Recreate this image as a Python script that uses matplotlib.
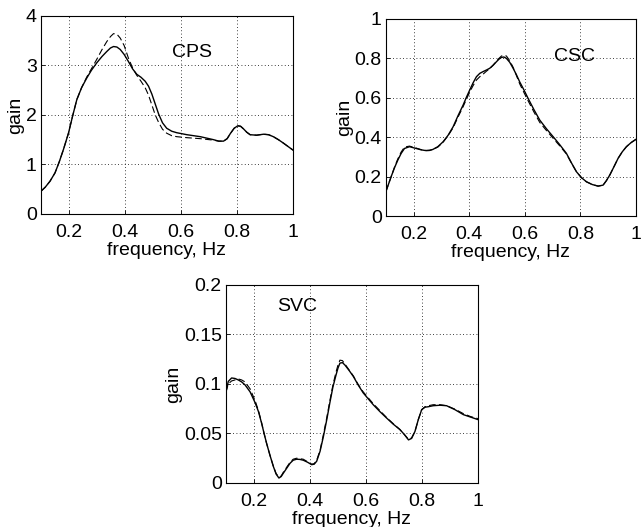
import matplotlib.pyplot as plt

plt.rcParams['font.family'] = ['Liberation Sans', 'DejaVu Sans']

# CPS panel
cps_f = [0.1, 0.115, 0.132, 0.15, 0.165, 0.18, 0.198, 0.213, 0.228, 0.245, 0.263, 0.28, 0.299,
         0.318, 0.335, 0.348, 0.359, 0.371, 0.383, 0.397, 0.412, 0.427, 0.442, 0.457, 0.472,
         0.484, 0.496, 0.508, 0.52, 0.534, 0.549, 0.567, 0.585, 0.621, 0.669, 0.716, 0.735,
         0.752, 0.765, 0.776, 0.79, 0.803, 0.813, 0.823, 0.835, 0.847, 0.87, 0.895, 0.913,
         0.93, 0.948, 0.966, 0.983, 1.0]
cps_solid = [0.46, 0.54, 0.66, 0.83, 1.05, 1.30, 1.63, 1.98, 2.31, 2.55, 2.74, 2.90, 3.05,
             3.18, 3.28, 3.35, 3.38, 3.37, 3.32, 3.22, 3.08, 2.93, 2.82, 2.76, 2.68,
             2.58, 2.42, 2.22, 2.02, 1.84, 1.73, 1.67, 1.64, 1.60, 1.56, 1.50, 1.47,
             1.47, 1.52, 1.62, 1.73, 1.78, 1.77, 1.72, 1.65, 1.60, 1.59, 1.61, 1.60,
             1.56, 1.50, 1.43, 1.36, 1.29]
cps_dash = [0.46, 0.54, 0.66, 0.83, 1.05, 1.30, 1.63, 1.98, 2.31, 2.55, 2.76, 2.93, 3.12,
            3.32, 3.48, 3.58, 3.64, 3.63, 3.55, 3.40, 3.15, 2.95, 2.80, 2.68, 2.55,
            2.40, 2.20, 2.00, 1.85, 1.71, 1.63, 1.58, 1.56, 1.54, 1.52, 1.49, 1.47,
            1.47, 1.52, 1.62, 1.73, 1.78, 1.77, 1.72, 1.65, 1.60, 1.59, 1.61, 1.60,
            1.56, 1.50, 1.43, 1.36, 1.29]

# CSC panel
csc_f = [0.1, 0.109, 0.119, 0.131, 0.143, 0.155, 0.167, 0.185, 0.209, 0.227, 0.245, 0.257,
         0.269, 0.287, 0.306, 0.324, 0.342, 0.36, 0.378, 0.39, 0.402, 0.414, 0.426, 0.438,
         0.45, 0.462, 0.474, 0.486, 0.498, 0.507, 0.516, 0.525, 0.534, 0.546, 0.558, 0.57,
         0.582, 0.597, 0.612, 0.633, 0.654, 0.678, 0.702, 0.726, 0.75, 0.768, 0.786, 0.804,
         0.822, 0.843, 0.864, 0.882, 0.894, 0.906, 0.921, 0.936, 0.951, 0.966, 0.983, 1.0]
csc_solid = [0.124, 0.16, 0.20, 0.245, 0.284, 0.318, 0.343, 0.352, 0.343, 0.336, 0.332, 0.333,
             0.338, 0.352, 0.377, 0.41, 0.453, 0.51, 0.563, 0.603, 0.64, 0.676, 0.707, 0.724,
             0.733, 0.741, 0.75, 0.765, 0.783, 0.796, 0.805, 0.807, 0.80, 0.78, 0.75, 0.717,
             0.68, 0.64, 0.597, 0.54, 0.487, 0.443, 0.403, 0.362, 0.318, 0.27, 0.225, 0.195,
             0.174, 0.16, 0.152, 0.157, 0.18, 0.208, 0.25, 0.293, 0.326, 0.352, 0.373, 0.389]
csc_dash = [0.124, 0.16, 0.20, 0.248, 0.29, 0.325, 0.35, 0.355, 0.345, 0.337, 0.333, 0.334,
            0.338, 0.35, 0.375, 0.408, 0.448, 0.503, 0.555, 0.593, 0.63, 0.662, 0.69, 0.707,
            0.72, 0.735, 0.748, 0.766, 0.785, 0.8, 0.812, 0.816, 0.812, 0.788, 0.755, 0.713,
            0.67, 0.627, 0.585, 0.528, 0.475, 0.434, 0.395, 0.356, 0.315, 0.269, 0.225, 0.195,
            0.174, 0.16, 0.152, 0.157, 0.18, 0.208, 0.25, 0.293, 0.326, 0.352, 0.373, 0.389]

# SVC panel
svc_f = [0.1, 0.108, 0.12, 0.132, 0.144, 0.156, 0.168, 0.186, 0.204, 0.216, 0.227, 0.236,
         0.245, 0.257, 0.269, 0.279, 0.289, 0.297, 0.305, 0.317, 0.329, 0.34, 0.352, 0.364,
         0.376, 0.391, 0.406, 0.415, 0.424, 0.436, 0.448, 0.46, 0.471, 0.482, 0.493, 0.5,
         0.507, 0.516, 0.525, 0.54, 0.555, 0.572, 0.59, 0.608, 0.626, 0.65, 0.674, 0.697,
         0.721, 0.737, 0.752, 0.763, 0.775, 0.787, 0.799, 0.811, 0.823, 0.84, 0.865, 0.888,
         0.918, 0.948, 0.974, 1.0]
svc_solid = [0.092, 0.1025, 0.106, 0.1055, 0.104, 0.102, 0.099, 0.092, 0.081, 0.072, 0.0605,
             0.05, 0.040, 0.028, 0.0168, 0.009, 0.005, 0.0065, 0.010, 0.015, 0.020, 0.023,
             0.024, 0.0238, 0.023, 0.021, 0.0185, 0.019, 0.022, 0.032, 0.047, 0.064, 0.081,
             0.097, 0.109, 0.116, 0.121, 0.1215, 0.119, 0.1135, 0.1075, 0.099, 0.091, 0.085,
             0.079, 0.072, 0.0655, 0.0595, 0.054, 0.049, 0.0435, 0.045, 0.052, 0.064, 0.074,
             0.0765, 0.077, 0.078, 0.0785, 0.078, 0.074, 0.069, 0.0665, 0.064]
svc_dash = [0.092, 0.100, 0.103, 0.104, 0.105, 0.104, 0.102, 0.095, 0.083, 0.073, 0.061,
            0.05, 0.040, 0.028, 0.017, 0.0095, 0.006, 0.007, 0.011, 0.016, 0.021, 0.024,
            0.025, 0.0245, 0.024, 0.0215, 0.019, 0.0195, 0.023, 0.033, 0.049, 0.066, 0.083,
            0.099, 0.112, 0.119, 0.124, 0.1235, 0.120, 0.114, 0.108, 0.0995, 0.092, 0.086,
            0.080, 0.073, 0.066, 0.060, 0.054, 0.049, 0.044, 0.0455, 0.052, 0.064, 0.074,
            0.077, 0.078, 0.079, 0.079, 0.078, 0.0745, 0.070, 0.067, 0.065]

fig = plt.figure(figsize=(6.41, 5.27), dpi=100)

panels = [
    ([0.064, 0.594, 0.393, 0.376], cps_f, cps_solid, cps_dash, 'CPS', (0.64, 3.25), 4, [0, 1, 2, 3, 4], ['0', '1', '2', '3', '4']),
    ([0.602, 0.590, 0.390, 0.374], csc_f, csc_solid, csc_dash, 'CSC', (0.78, 0.81), 1, [0, 0.2, 0.4, 0.6, 0.8, 1], ['0', '0.2', '0.4', '0.6', '0.8', '1']),
    ([0.3526, 0.0835, 0.393, 0.376], svc_f, svc_solid, svc_dash, 'SVC', (0.355, 0.178), 0.2, [0, 0.05, 0.1, 0.15, 0.2], ['0', '0.05', '0.1', '0.15', '0.2']),
]

for rect, f, solid, dash, name, txt, ymax, yt, ytl in panels:
    ax = fig.add_axes(rect)
    ax.plot(f, dash, color='black', lw=0.8, dashes=(6, 3))
    ax.plot(f, solid, color='black', lw=1.0)
    ax.set_xlim(0.1, 1)
    ax.set_ylim(0, ymax)
    ax.set_xticks([0.2, 0.4, 0.6, 0.8, 1])
    ax.set_xticklabels(['0.2', '0.4', '0.6', '0.8', '1'])
    ax.set_yticks(yt)
    ax.set_yticklabels(ytl)
    ax.grid(True, color='black', linestyle=(0, (1, 3)), linewidth=0.6)
    ax.tick_params(direction='in', length=3, labelsize=14, width=0.6, pad=3)
    ax.tick_params(axis='x', pad=7)
    for s in ax.spines.values():
        s.set_linewidth(0.8)
    ax.set_xlabel('frequency, Hz', fontsize=14, labelpad=1)
    ax.set_ylabel('gain', fontsize=14, labelpad=1)
    ax.text(txt[0], txt[1], name, fontsize=14, ha='center', va='center')

fig.savefig('out.png', dpi=100)
